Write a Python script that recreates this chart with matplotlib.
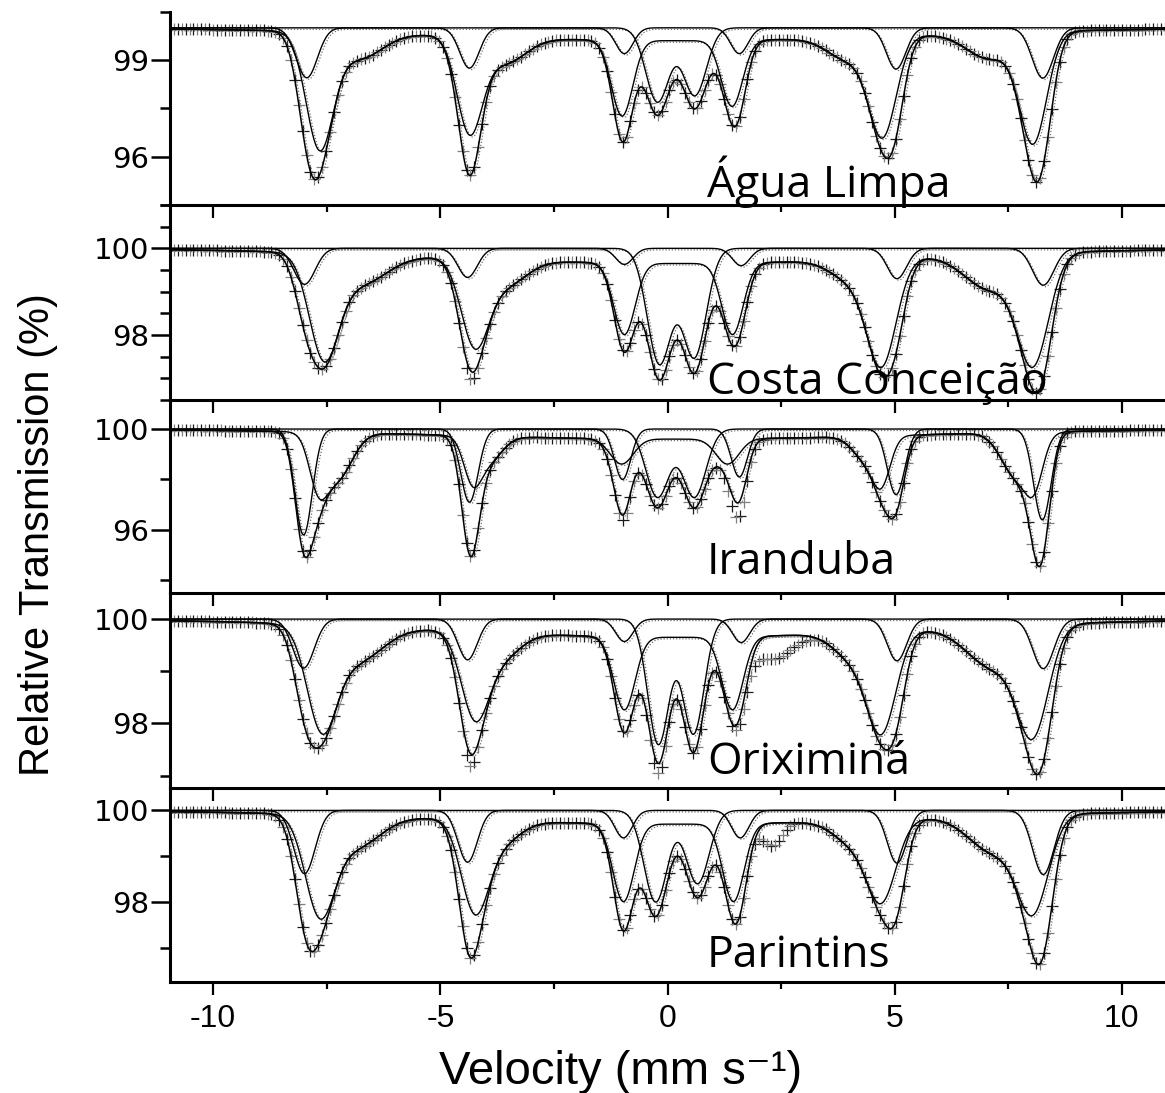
import numpy as np
import matplotlib
matplotlib.use("Agg")
import matplotlib.pyplot as plt
from matplotlib.ticker import MultipleLocator
from matplotlib.transforms import offset_copy

SANS = ["Liberation Sans", "DejaVu Sans"]

# channel velocities of the folded spectra (mm/s)
velocity = np.linspace(-10.95, 10.95, 256)
curve_v = np.linspace(-10.95, 10.95, 1600)

samples = ["Água Limpa", "Costa Conceição", "Iranduba", "Oriximiná", "Parintins"]

# fitted sub-spectra: (line position mm/s, depth %, width mm/s)
agua_hem = [(-7.94, 1.55, 0.55), (-4.36, 1.25, 0.50), (-0.95, 0.80, 0.45),
            (1.58, 0.80, 0.45), (5.03, 1.28, 0.50), (8.26, 1.56, 0.55)]
agua_gth = [(-7.66, 3.50, 0.70), (-4.36, 2.85, 0.65), (-1.00, 2.35, 0.55),
            (1.42, 2.05, 0.55), (4.74, 2.95, 0.70), (8.05, 3.35, 0.70),
            (-6.80, 0.80, 1.20), (-3.60, 0.80, 1.10), (4.00, 0.70, 1.10),
            (7.10, 0.80, 1.20), (0.20, 0.40, 12.0)]
agua_dbl = [(-0.22, 2.30, 0.60), (0.60, 2.10, 0.60)]
agua_extra = []

costa_hem = [(-7.99, 0.83, 0.55), (-4.40, 0.67, 0.50), (-0.95, 0.37, 0.45),
             (1.62, 0.40, 0.45), (5.05, 0.70, 0.50), (8.27, 0.85, 0.55)]
costa_gth = [(-7.57, 2.20, 0.75), (-4.25, 1.85, 0.70), (-0.95, 1.65, 0.55),
             (1.43, 1.65, 0.55), (4.72, 2.30, 0.75), (8.05, 2.45, 0.80),
             (-6.80, 0.70, 1.40), (-3.60, 0.60, 1.10), (4.10, 0.50, 1.10),
             (7.10, 0.80, 1.30), (0.20, 0.35, 12.0)]
costa_dbl = [(-0.18, 2.65, 0.62), (0.59, 2.50, 0.62)]
costa_extra = [(-4.35, 0.20, 0.35)]

iran_hem = [(-8.01, 4.20, 0.45), (-4.36, 2.90, 0.45), (-0.99, 2.00, 0.42),
            (1.58, 1.90, 0.42), (5.03, 2.60, 0.45), (8.25, 3.60, 0.45)]
iran_gth = [(-7.70, 1.60, 0.45), (-4.30, 1.50, 0.45), (-1.01, 1.00, 0.60),
            (1.32, 1.00, 0.60), (4.72, 1.50, 0.45), (8.08, 1.50, 0.45),
            (-7.30, 1.90, 0.80), (-3.95, 1.00, 0.70), (4.40, 1.00, 0.70),
            (7.70, 1.80, 0.80), (0.20, 0.40, 12.0)]
iran_dbl = [(-0.22, 2.70, 0.60), (0.59, 2.70, 0.60)]
iran_extra = [(1.55, 0.60, 0.45), (-0.99, 0.20, 0.40)]

orix_hem = [(-8.01, 0.94, 0.55), (-4.40, 0.78, 0.50), (-0.95, 0.43, 0.45),
            (1.62, 0.45, 0.45), (5.05, 0.80, 0.50), (8.27, 0.95, 0.55)]
orix_gth = [(-7.62, 1.75, 0.75), (-4.25, 1.50, 0.70), (-0.95, 1.40, 0.55),
            (1.43, 1.40, 0.55), (4.72, 1.80, 0.75), (8.05, 1.90, 0.80),
            (-6.90, 0.70, 1.40), (-3.70, 0.50, 1.00), (4.10, 0.50, 1.00),
            (7.20, 0.80, 1.40), (0.20, 0.35, 12.0)]
orix_dbl = [(-0.20, 2.40, 0.55), (0.57, 2.20, 0.55)]
orix_extra = [(2.30, 0.45, 1.00), (-0.24, 0.20, 0.40), (-4.36, 0.25, 0.30)]

pari_hem = [(-7.99, 1.38, 0.55), (-4.40, 1.13, 0.50), (-0.97, 0.60, 0.45),
            (1.60, 0.60, 0.45), (5.05, 1.15, 0.50), (8.27, 1.40, 0.55)]
pari_gth = [(-7.66, 2.00, 0.75), (-4.25, 1.85, 0.70), (-0.97, 1.70, 0.55),
            (1.45, 1.70, 0.55), (4.72, 1.65, 0.75), (8.05, 1.95, 0.80),
            (-6.90, 0.70, 1.30), (-3.70, 0.50, 1.00), (4.10, 0.50, 1.00),
            (7.20, 0.80, 1.30), (0.20, 0.30, 12.0)]
pari_dbl = [(-0.26, 2.00, 0.60), (0.66, 1.60, 0.60)]
pari_extra = [(2.30, 0.50, 0.50)]

components = [
    (agua_hem, agua_gth, agua_dbl, agua_extra),
    (costa_hem, costa_gth, costa_dbl, costa_extra),
    (iran_hem, iran_gth, iran_dbl, iran_extra),
    (orix_hem, orix_gth, orix_dbl, orix_extra),
    (pari_hem, pari_gth, pari_dbl, pari_extra),
]

# layout of the stacked panels (pixel rows in the original figure)
W, H = 1165, 1093
panel_px = [(11.7, 205), (205, 400), (400, 593), (593, 787.5), (787.5, 981.7)]
ylims = [(94.5, 100.5), (96.5, 101.0), (93.5, 101.15), (96.77, 100.5), (96.26, 100.5)]
ymajor = [3, 2, 4, 2, 2]
yminor = [1.5, 0.5, 2, 1, 1]
label_y = [0.041, 0.031, 0.098, 0.069, 0.076]


def absorption(lines, v):
    a = np.zeros_like(v)
    for pos, dep, w in lines:
        s = w / 2.355
        a += dep * np.exp(-0.5 * ((v - pos) / s) ** 2)
    return a


fig = plt.figure(figsize=(W / 100, H / 100), dpi=100)
left = 170 / W

for i, (comp, (top, bot)) in enumerate(zip(components, panel_px)):
    ax = fig.add_axes([left, 1 - bot / H, 1 - left, (bot - top) / H])
    hem, gth, dbl, extra = comp
    shadow = offset_copy(ax.transData, fig=fig, x=2, y=-1.5, units="dots")

    fit_total = 100 - sum(absorption(c, curve_v) for c in (hem, gth, dbl))
    data = 100 - sum(absorption(c, velocity) for c in (hem, gth, dbl, extra))

    ax.plot(velocity[::2], data[::2], "+", color="0.1", ms=9, mew=0.9, zorder=1)
    ax.plot(velocity[1::2], data[1::2], "+", color="0.5", ms=9, mew=0.9, zorder=1)

    for c in (hem, gth, dbl):
        y = 100 - absorption(c, curve_v)
        ax.plot(curve_v, y, color="0.45", lw=0.9, ls=(0, (1, 1.5)), transform=shadow, zorder=2)
        ax.plot(curve_v, y, color="k", lw=1.0, zorder=3)
    ax.plot(curve_v, fit_total, color="0.45", lw=0.9, ls=(0, (1, 1.5)), transform=shadow, zorder=2)
    ax.plot(curve_v, fit_total, color="k", lw=1.1, zorder=3)

    ax.set_xlim(-10.95, 10.95)
    ax.set_ylim(*ylims[i])
    ax.xaxis.set_major_locator(MultipleLocator(5))
    ax.xaxis.set_minor_locator(MultipleLocator(2.5))
    ax.yaxis.set_major_locator(MultipleLocator(ymajor[i]))
    ax.yaxis.set_minor_locator(MultipleLocator(yminor[i]))

    for side in ("top", "right"):
        ax.spines[side].set_visible(False)
    for side in ("left", "bottom"):
        ax.spines[side].set_linewidth(2.2)
    ax.patch.set_alpha(0)

    ax.tick_params(axis="y", which="major", direction="out", length=14, width=1.8, pad=1,
                   labelsize=21)
    ax.tick_params(axis="y", which="minor", direction="out", length=7, width=1.8)
    ax.tick_params(axis="x", which="major", direction="out", length=9, width=1.6, pad=7,
                   labelsize=23)
    ax.tick_params(axis="x", which="minor", direction="out", length=5, width=1.6)
    for t in ax.get_yticklabels():
        t.set_family("DejaVu Sans")
    if i < len(components) - 1:
        ax.tick_params(axis="x", labelbottom=False)
    else:
        ax.set_xticks([-10, -5, 0, 5, 10])
        ax.set_xticklabels(["-10", "-5", "0", "5", "10"], family=SANS, fontsize=23)

    ax.text(0.5397, label_y[i], samples[i], transform=ax.transAxes, family="Open Sans",
            fontsize=32, va="baseline", ha="left", zorder=4)

fig.text(38 / W, 1 - 535 / H, "Relative Transmission (%)", rotation=90, ha="center",
         va="center", family=SANS, fontsize=30)
fig.text(621 / W, 1 - 1084 / H, "Velocity (mm s\u207b\u00b9)", ha="center", va="baseline",
         family=SANS, fontsize=34)

fig.savefig("out.png", dpi=100)
